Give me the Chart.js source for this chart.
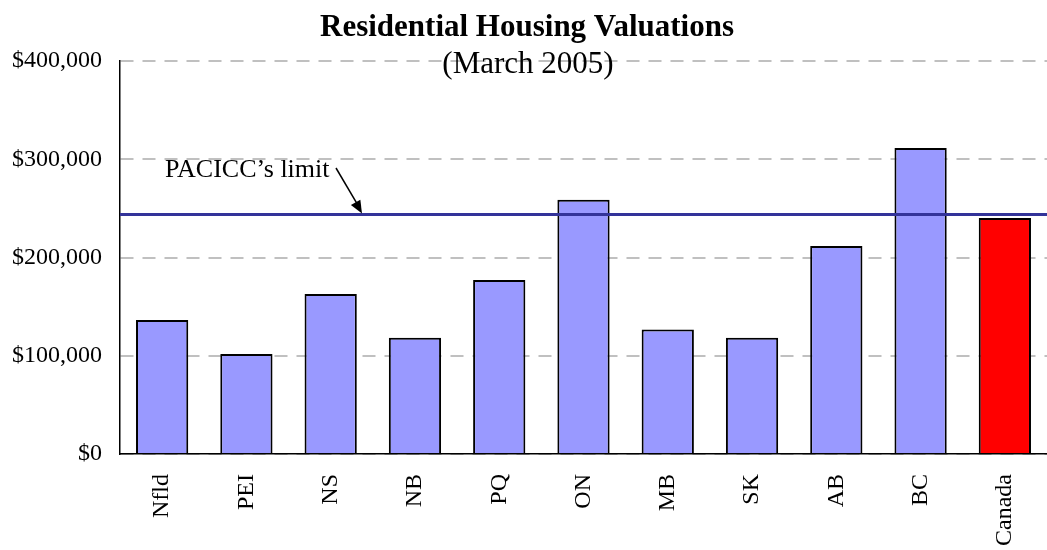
<!DOCTYPE html>
<html>
<head>
<meta charset="utf-8">
<script src="https://cdn.jsdelivr.net/npm/chart.js@4.4.1/dist/chart.umd.min.js"></script>
<style>
  html, body { margin:0; padding:0; background:#fff; }
  #wrap { width:1047px; height:550px; position:relative; }
</style>
</head>
<body>
<div id="wrap"><canvas id="chart"></canvas></div>
<script>
// Residential housing valuations by province, March 2005
const PROVINCES = ['Nfld','PEI','NS','NB','PQ','ON','MB','SK','AB','BC','Canada'];
const VALUES = [136500, 101800, 162800, 118200, 177000, 258700, 126700, 118200, 211700, 311400, 240300];
const BAR_COLORS = ['#9999ff','#9999ff','#9999ff','#9999ff','#9999ff','#9999ff','#9999ff','#9999ff','#9999ff','#9999ff','#ff0000'];
const Y_TICKS = [0, 100000, 200000, 300000, 400000];
const LIMIT = 243700;

const SERIF = '"Liberation Serif", "Times New Roman", serif';

const fmtMoney = v => '$' + v.toLocaleString('en-US');

// titles + limit line + arrow annotation
const overlay = {
  id: 'overlay',
  afterDatasetsDraw(chart) {
    const { ctx, chartArea, scales } = chart;
    const y = scales.y.getPixelForValue(LIMIT);
    ctx.save();
    ctx.strokeStyle = '#333399';
    ctx.lineWidth = 3;
    ctx.beginPath();
    ctx.moveTo(chartArea.left, y);
    ctx.lineTo(chartArea.right, y);
    ctx.stroke();

    // label + arrow
    ctx.fillStyle = '#000';
    ctx.font = '26px ' + SERIF;
    ctx.textBaseline = 'alphabetic';
    ctx.textAlign = 'left';
    ctx.fillText('PACICC\u2019s limit', 165, 177);

    const x0 = 336, y0 = 168, x1 = 362, y1 = y - 1;
    ctx.strokeStyle = '#000';
    ctx.lineWidth = 1.5;
    ctx.beginPath();
    ctx.moveTo(x0, y0);
    ctx.lineTo(x1 - 5, y1 - 10);
    ctx.stroke();
    const ang = Math.atan2(y1 - y0, x1 - x0);
    ctx.beginPath();
    ctx.moveTo(x1, y1);
    ctx.lineTo(x1 - 14 * Math.cos(ang - 0.4), y1 - 14 * Math.sin(ang - 0.4));
    ctx.lineTo(x1 - 14 * Math.cos(ang + 0.4), y1 - 14 * Math.sin(ang + 0.4));
    ctx.closePath();
    ctx.fill();

    ctx.textAlign = 'center';
    ctx.font = 'bold 31px ' + SERIF;
    ctx.fillText('Residential Housing Valuations', 527, 36);
    ctx.font = '31px ' + SERIF;
    ctx.fillText('(March 2005)', 528, 73);
    ctx.restore();
  }
};

new Chart(document.getElementById('chart'), {
  type: 'bar',
  data: {
    labels: PROVINCES,
    datasets: [{
      data: VALUES,
      backgroundColor: BAR_COLORS,
      borderColor: '#000',
      borderWidth: 2,
      categoryPercentage: 1,
      barPercentage: 0.62
    }]
  },
  options: {
    responsive: true,
    maintainAspectRatio: false,
    animation: false,
    layout: { padding: { top: 61, right: 0, left: 0, bottom: 0 } },
    plugins: { legend: { display: false }, tooltip: { enabled: false }, title: { display: false } },
    scales: {
      x: {
        grid: { display: false },
        border: { color: '#000', width: 1.5 },
        ticks: {
          color: '#000',
          font: { family: SERIF, size: 24 },
          minRotation: 90, maxRotation: 90,
          padding: 12
        },
        afterFit: s => { s.height = 96; }
      },
      y: {
        min: 0, max: 400000,
        afterBuildTicks: s => { s.ticks = Y_TICKS.map(v => ({ value: v })); },
        grid: { color: '#c0c0c0', lineWidth: 2, drawTicks: false },
        border: { color: '#000', width: 1.5, dash: [13, 9] },
        ticks: {
          color: '#000',
          font: { family: SERIF, size: 24 },
          padding: 18,
          callback: v => fmtMoney(v)
        },
        afterFit: s => { s.width = 120; }
      }
    }
  },
  plugins: [overlay]
});
</script>
</body>
</html>
